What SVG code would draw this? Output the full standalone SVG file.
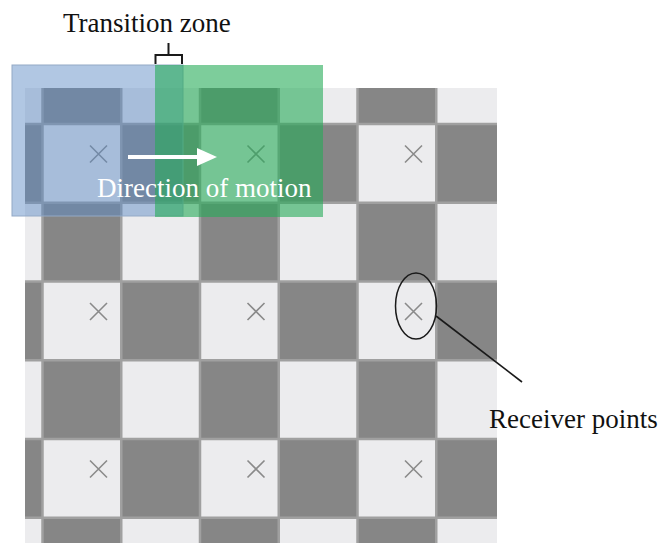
<svg xmlns="http://www.w3.org/2000/svg" width="664" height="543" viewBox="0 0 664 543">
  <style>
    .label { font-family: "Liberation Serif", "Times New Roman", serif; font-size: 27px; fill: #111; }
    .label-white { font-family: "Liberation Serif", "Times New Roman", serif; font-size: 27px; fill: #ffffff; }
    .grid { stroke: #a0a0a0; stroke-width: 2.5; fill: none; }
    .mark { stroke: #8a8a8a; stroke-width: 1.6; fill: none; }
    .ink { stroke: #1a1a1a; fill: none; }
  </style>
  <defs>
    <!-- 2x2 checker tile, cell pitch 78.75 -->
    <pattern id="checker" patternUnits="userSpaceOnUse" x="42.5" y="124" width="157.5" height="157.5">
      <rect x="0" y="0" width="157.5" height="157.5" fill="#ececee"/>
      <rect x="78.75" y="0" width="78.75" height="78.75" fill="#868686"/>
      <rect x="0" y="78.75" width="78.75" height="78.75" fill="#868686"/>
    </pattern>
    <path id="cross" d="M-8.5,-8.5 L8.5,8.5 M-8.5,8.5 L8.5,-8.5"/>
  </defs>

  <rect width="664" height="543" fill="#ffffff"/>

  <!-- floor grid -->
  <g id="board">
    <rect x="25" y="88" width="472" height="455" fill="url(#checker)"/>
    <path class="grid" d="M42.5,88 V543 M121.25,88 V543 M200,88 V543 M278.75,88 V543 M357.5,88 V543 M436.25,88 V543
                          M25,124 H497 M25,202.75 H497 M25,281.5 H497 M25,360.25 H497 M25,439 H497 M25,517.75 H497"/>
  </g>

  <!-- receiver points -->
  <g id="receivers" class="mark">
    <use href="#cross" x="98.5" y="154"/>
    <use href="#cross" x="256" y="154"/>
    <use href="#cross" x="413.5" y="154"/>
    <use href="#cross" x="98.5" y="311.5"/>
    <use href="#cross" x="256" y="311.5"/>
    <use href="#cross" x="413.5" y="311.5"/>
    <use href="#cross" x="98.5" y="469"/>
    <use href="#cross" x="256" y="469"/>
    <use href="#cross" x="413.5" y="469"/>
  </g>

  <!-- source areas -->
  <g id="area-previous">
    <rect x="12" y="65" width="171" height="151" fill="#5d89c5" fill-opacity="0.48" stroke="#93a9c6" stroke-width="1"/>
  </g>
  <g id="area-next">
    <rect x="155" y="65" width="168" height="152" fill="#26ac58" fill-opacity="0.6"/>
  </g>

  <!-- connectors -->
  <g id="connectors">
    <path class="ink" stroke-width="2" d="M155.5,64 V55 H182 V64 M168.5,55 V43"/>
    <line x1="128" y1="157" x2="200" y2="157" stroke="#ffffff" stroke-width="4"/>
    <polygon points="197,148 217,157 197,166" fill="#ffffff"/>
    <ellipse class="ink" cx="416" cy="306" rx="20.5" ry="33" stroke-width="1.5"/>
    <line class="ink" x1="436" y1="316" x2="522" y2="382" stroke-width="1.6"/>
  </g>

  <!-- labels -->
  <g id="label-transition">
    <text class="label" x="63" y="32">Transition zone</text>
  </g>
  <g id="label-direction">
    <text class="label-white" x="97" y="197">Direction of motion</text>
  </g>
  <g id="label-receivers">
    <text class="label" x="489" y="428">Receiver points</text>
  </g>
</svg>
